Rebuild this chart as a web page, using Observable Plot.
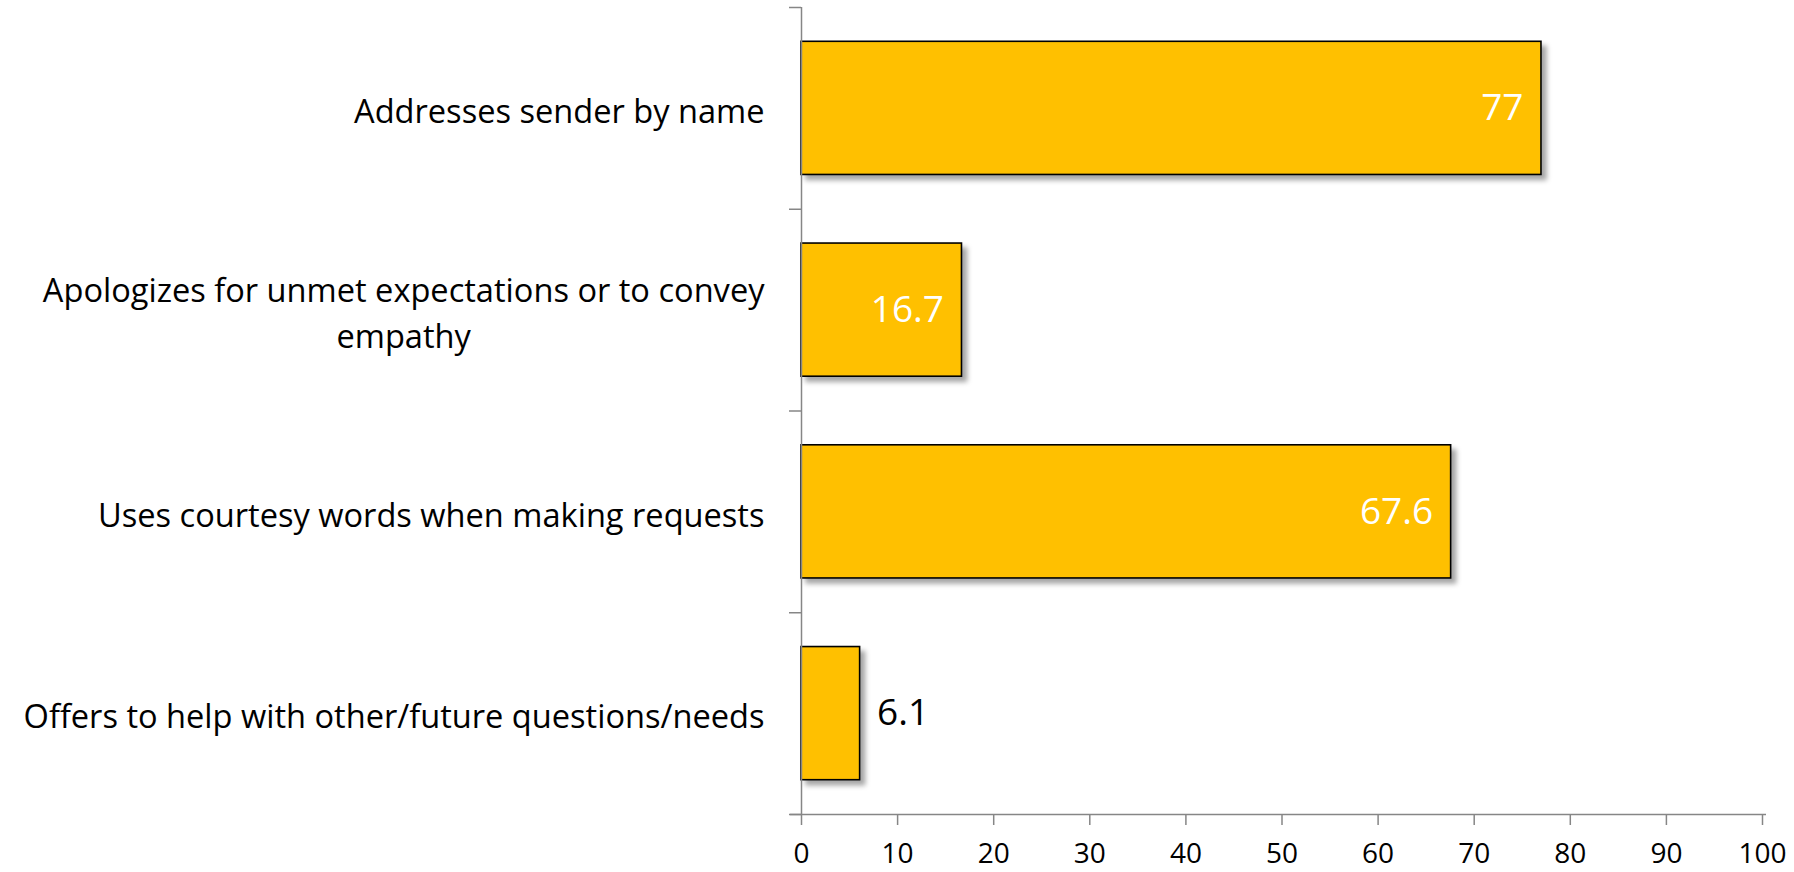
<!DOCTYPE html>
<html>
<head>
<meta charset="utf-8">
<script src="https://cdn.jsdelivr.net/npm/d3@7"></script>
<script src="https://cdn.jsdelivr.net/npm/@observablehq/plot@0.6"></script>
<style>
  html, body { margin: 0; padding: 0; background: #fff; }
  #chart svg { display: block; }
</style>
</head>
<body>
<div id="chart"></div>
<script>
// ---- data ----
const categories = [
  "Addresses sender by name",
  "Apologizes for unmet expectations or to convey\nempathy",
  "Uses courtesy words when making requests",
  "Offers to help with other/future questions/needs"
];
const values = [77, 16.7, 67.6, 6.1];
const xTicks = [0, 10, 20, 30, 40, 50, 60, 70, 80, 90, 100];

// ---- styling constants ----
const barPad = 0.17;           // fraction of each category slot left empty above/below a bar
const barFill = "#FFC000";
const axisColor = "#868686";
const font = "'Open Sans', Lato, sans-serif";

const data = categories.map((c, i) => ({category: c, value: values[i], index: i}));
const boundaries = d3.range(categories.length + 1);

const chart = Plot.plot({
  width: 1794,
  height: 872,
  marginLeft: 801,
  marginRight: 32,
  marginTop: 7,
  marginBottom: 58,
  style: {background: "#fff", fontFamily: font, color: "#000"},
  x: {domain: [0, 100], ticks: xTicks},
  y: {domain: [0, categories.length], reverse: true},
  marks: [
    // y axis: ticks at category boundaries, no labels
    Plot.axisY(boundaries, {tickSize: 12, tickFormat: () => "", stroke: axisColor, strokeWidth: 1.5, label: null}),
    // x axis ticks and labels
    Plot.axisX(xTicks, {tickSize: 11, tickPadding: 18, fontSize: 28, stroke: axisColor, strokeWidth: 1.5, fill: "#000", label: null}),
    // bars
    Plot.rectX(data, {
      x1: 0, x2: "value",
      y1: d => d.index + barPad,
      y2: d => d.index + 1 - barPad,
      fill: barFill, stroke: "#000", strokeWidth: 1.6
    }),
    // axis lines
    Plot.ruleX([0], {stroke: axisColor, strokeWidth: 1.5}),
    Plot.ruleY([categories.length], {stroke: axisColor, strokeWidth: 1.5, insetLeft: -11, insetRight: -4}),
    // category labels
    Plot.text(data, {
      x: 0, y: d => d.index + 0.5, text: "category",
      textAnchor: "end", dx: -37, fontSize: 32.6, lineHeight: 46 / 32.6, fill: "#000"
    }),
    // value labels inside bars (white)
    Plot.text(data.filter(d => d.value > 10), {
      x: "value", y: d => d.index + 0.5, text: d => String(d.value),
      textAnchor: "end", dx: -18, fontSize: 37, fill: "#fff"
    }),
    // value labels outside short bars (black)
    Plot.text(data.filter(d => d.value <= 10), {
      x: "value", y: d => d.index + 0.5, text: d => String(d.value),
      textAnchor: "start", dx: 17, fontSize: 37, fill: "#000"
    })
  ]
});

document.getElementById("chart").appendChild(chart);

// drop shadow on bars
const svg = d3.select(chart);
const defs = svg.insert("defs", ":first-child");
const f = defs.append("filter").attr("id", "barShadow")
  .attr("x", "-5%").attr("y", "-10%").attr("width", "120%").attr("height", "140%");
f.append("feDropShadow").attr("dx", 5).attr("dy", 5).attr("stdDeviation", 2.5)
  .attr("flood-color", "#000").attr("flood-opacity", 0.35);
svg.selectAll('g[aria-label="rect"]').attr("filter", "url(#barShadow)");

// center the wrapped continuation line under the first line (Excel-style)
svg.selectAll('g[aria-label="text"] text').each(function () {
  const tspans = this.querySelectorAll("tspan");
  if (tspans.length > 1) {
    const w = tspans[0].getComputedTextLength();
    const t = this.getAttribute("transform") || "";
    this.setAttribute("text-anchor", "middle");
    this.setAttribute("transform", t + ` translate(${-w / 2},0)`);
  }
});
</script>
</body>
</html>
